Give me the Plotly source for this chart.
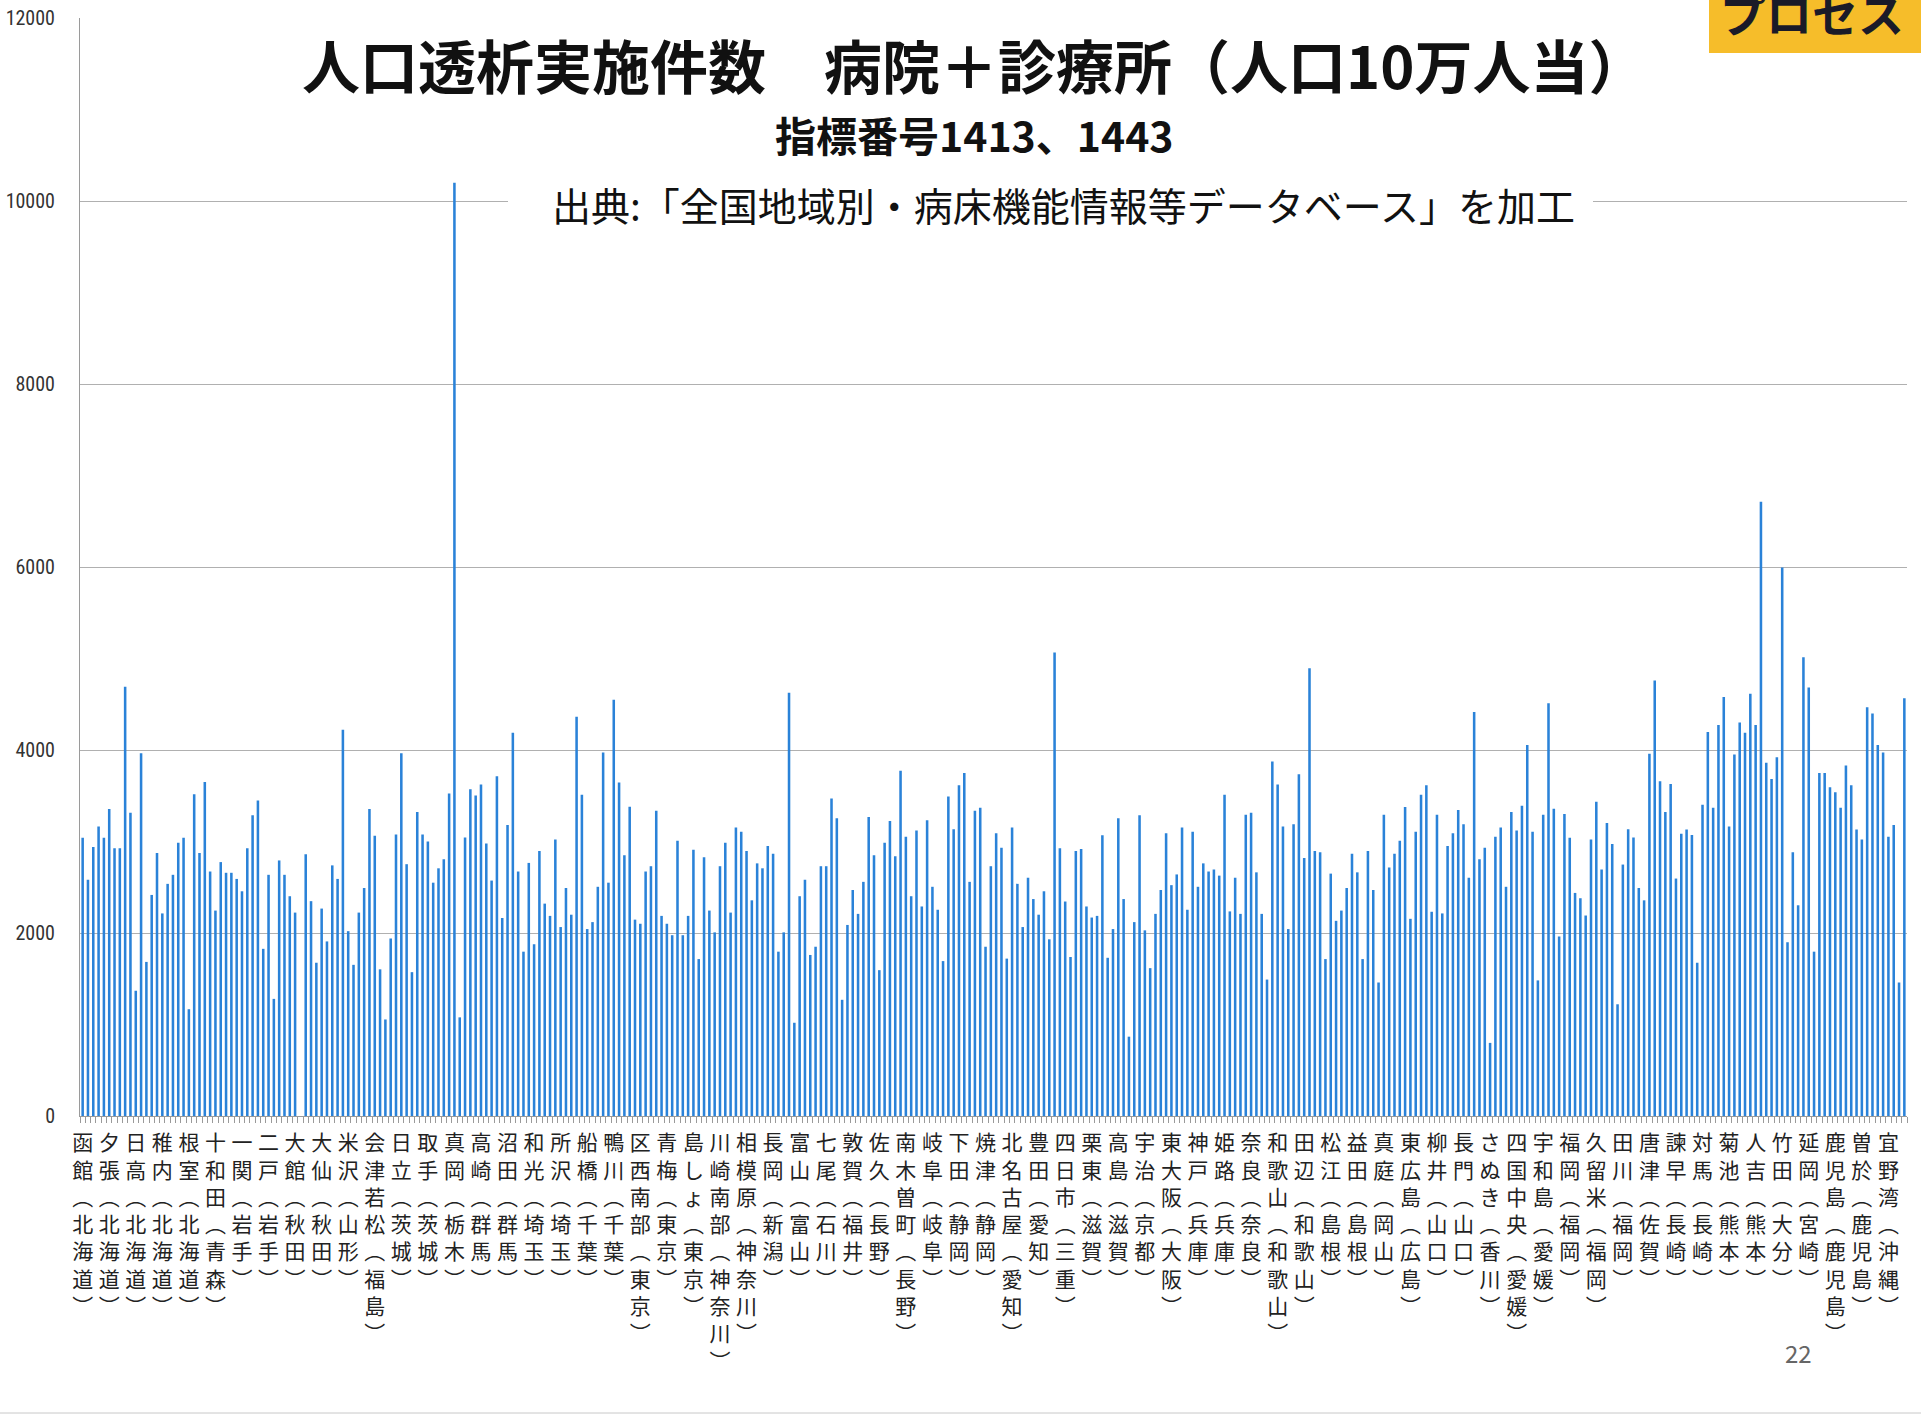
import plotly.graph_objects as go

# 人口10万人当たり人工透析実施件数（二次医療圏別、北から順）
values = [
    3040, 2582, 2941, 3165, 3040, 3354, 2927, 2927, 4692, 3314, 1369, 3965, 1684, 2416, 2874,
    2214, 2537, 2636, 2986, 3040, 1167, 3516, 2874, 3650, 2672, 2245, 2775, 2658, 2658,
    2591, 2456, 2927, 3287, 3448, 1827, 2636, 1280, 2793, 2636, 2402, 2223, 0, 2860, 2348,
    1675, 2267, 1908, 2739, 2591, 4221, 2020, 1652, 2223, 2492, 3354, 3062, 1603, 1055,
    1940, 3076, 3965, 2752, 1572, 3323, 3076, 2999, 2550, 2707, 2806, 3525, 10200, 1078,
    3044, 3570, 3502, 3623, 2977, 2573, 3713, 2164, 3179, 4189, 2672, 1796, 2766, 1877,
    2896, 2321, 2187, 3022, 2065, 2492, 2200, 4364, 3511, 2043, 2119, 2505, 3974, 2550, 4548,
    3646, 2851, 3381, 2146, 2101, 2672, 2730, 3336, 2187, 2101, 1976, 3008, 1976, 2187,
    2910, 1715, 2829, 2245, 2007, 2730, 2986, 2223, 3152, 3107, 2896, 2357, 2761, 2707, 2950,
    2865, 1796, 2007, 4625, 1019, 2402, 2582, 1760, 1850, 2730, 2730, 3471, 3255, 1270,
    2088, 2470, 2209, 2559, 3269, 2851, 1594, 2986, 3224, 2838, 3772, 3053, 2402, 3121,
    2290, 3233, 2505, 2254, 1693, 3493, 3134, 3614, 3749, 2559, 3336, 3368, 1850, 2730,
    3089, 2932, 1720, 3152, 2537, 2065, 2604, 2371, 2200, 2456, 1931, 5065, 2927, 2344, 1738,
    2896, 2919, 2290, 2169, 2187, 3067, 1729, 2043, 3255, 2371, 867, 2119, 3287, 2029,
    1616, 2209, 2470, 3089, 2523, 2640, 3152, 2254, 3107, 2505, 2761, 2672, 2694, 2627, 3511,
    2236, 2604, 2209, 3291, 3314, 2663, 2209, 1491, 3875, 3623, 3165, 2043, 3188, 3736,
    2820, 4894, 2896, 2883, 1715, 2649, 2133, 2245, 2492, 2865, 2663, 1715, 2896, 2470,
    1459, 3291, 2716, 2865, 3008, 3376, 2155, 3107, 3511, 3614, 2232, 3291, 2214, 2950,
    3089, 3345, 3188, 2604, 4414, 2806, 2932, 799, 3053, 3152, 2505, 3323, 3121, 3390, 4054,
    3107, 1482, 3291, 4512, 3359, 1962, 3300, 3040, 2438, 2380, 2191, 3022, 3435, 2694,
    3201, 2972, 1221, 2748, 3134, 3044, 2492, 2357, 3960, 4759, 3659, 3323, 3628, 2595, 3085,
    3130, 3071, 1675, 3403, 4198, 3368, 4274, 4580, 3165, 3951, 4301, 4189, 4616, 4274,
    6712, 3861, 3682, 3920, 5994, 1899, 2883, 2303, 5015, 4683, 1796, 3749, 3749, 3592,
    3538, 3368, 3830, 3614, 3130, 3022, 4468, 4400, 4054, 3974, 3053, 3179, 1459, 4566,
]

# 5圏域ごとに表示されている軸ラベル
label_names = [
    "函館", "夕張", "日高", "稚内", "根室", "十和田", "一関", "二戸", "大館", "大仙",
    "米沢", "会津若松", "日立", "取手", "真岡", "高崎", "沼田", "和光", "所沢", "船橋",
    "鴨川", "区西南部", "青梅", "島しょ", "川崎南部", "相模原", "長岡", "富山", "七尾", "敦賀",
    "佐久", "南木曽町", "岐阜", "下田", "焼津", "北名古屋", "豊田", "四日市", "栗東", "高島",
    "宇治", "東大阪", "神戸", "姫路", "奈良", "和歌山", "田辺", "松江", "益田", "真庭",
    "東広島", "柳井", "長門", "さぬき", "四国中央", "宇和島", "福岡", "久留米", "田川", "唐津",
    "諫早", "対馬", "菊池", "人吉", "竹田", "延岡", "鹿児島", "曽於", "宜野湾",
]
label_prefs = [
    "北海道", "北海道", "北海道", "北海道", "北海道", "青森", "岩手", "岩手", "秋田", "秋田",
    "山形", "福島", "茨城", "茨城", "栃木", "群馬", "群馬", "埼玉", "埼玉", "千葉",
    "千葉", "東京", "東京", "東京", "神奈川", "神奈川", "新潟", "富山", "石川", "福井",
    "長野", "長野", "岐阜", "静岡", "静岡", "愛知", "愛知", "三重", "滋賀", "滋賀",
    "京都", "大阪", "兵庫", "兵庫", "奈良", "和歌山", "和歌山", "島根", "島根", "岡山",
    "広島", "山口", "山口", "香川", "愛媛", "愛媛", "福岡", "福岡", "福岡", "佐賀",
    "長崎", "長崎", "熊本", "熊本", "大分", "宮崎", "鹿児島", "鹿児島", "沖縄",
]
label_step = 5

y_ticks = [0, 2000, 4000, 6000, 8000, 10000, 12000]

title_text = "人口透析実施件数　病院＋診療所（人口10万人当）"
subtitle_text = "指標番号1413、1443"
source_text = "出典:「全国地域別・病床機能情報等データベース」を加工"
tag_text = "プロセス"
page_text = "22"

W, H = 1921, 1417
L, R, T, B = 80, 14, 18, 301
JP = "Noto Sans CJK JP, Noto Sans, sans-serif"


def px(x, y):
    # page pixel -> paper coords
    return (x - L) / (W - L - R), (H - B - y) / (H - T - B)


def vertical(name, pref):
    chars = list(name) + ["︵"] + list(pref) + ["︶"]
    return "<br>".join(chars)


n = len(values)
tickvals = [i * label_step for i in range(len(label_names))]
ticktext = [vertical(a, b) for a, b in zip(label_names, label_prefs)]

fig = go.Figure()
fig.add_trace(go.Bar(
    x=list(range(n)), y=values, width=0.48,
    marker=dict(color="#2a82d8", line_width=0),
    hovertemplate="%{y}<extra></extra>",
))

fig.update_xaxes(
    range=[-0.5, n - 0.5], tickmode="array", tickvals=tickvals, ticktext=ticktext,
    tickangle=0, ticks="", showgrid=False, zeroline=False, automargin=False,
    showline=True, linecolor="#9a9a9a", linewidth=1,
    tickfont=dict(family=JP, size=21, color="#222"),
    ticklabelstandoff=8,
    minor=dict(tickmode="linear", tick0=0.5, dtick=1, ticks="outside", ticklen=6,
               tickcolor="#9a9a9a", showgrid=False),
)
fig.update_yaxes(
    range=[0, 12000], tickmode="array", tickvals=y_ticks, tickformat="d",
    showgrid=True, gridcolor="#b0b0b0", gridwidth=1, zeroline=False, automargin=False,
    showline=True, linecolor="#9a9a9a", linewidth=1, ticks="",
    tickfont=dict(family="Liberation Sans Narrow, Arial Narrow, Roboto Condensed, sans-serif",
                  size=20, color="#333"),
    ticklabelstandoff=20,
)

shapes = []
# white boxes behind the titles (hide gridlines)
for (x0, y0, x1, y1) in [(251, 0, 1709, 100), (508, 172, 1593, 240)]:
    a0, b0 = px(x0, y1)
    a1, b1 = px(x1, y0)
    shapes.append(dict(type="rect", xref="paper", yref="paper", x0=a0, y0=b0, x1=a1, y1=b1,
                       fillcolor="white", line_width=0, layer="above"))
# orange tag in the corner
a0, b0 = px(1709, 53)
a1, b1 = px(1921, -5)
shapes.append(dict(type="rect", xref="paper", yref="paper", x0=a0, y0=b0, x1=a1, y1=b1,
                   fillcolor="#f6bd2a", line_width=0, layer="above"))
# scan edge at bottom
a0, b0 = px(0, 1413)
a1, _ = px(W, 1413)
shapes.append(dict(type="line", xref="paper", yref="paper", x0=a0, y0=b0, x1=a1, y1=b0,
                   line=dict(color="#c8c8c8", width=1)))

annotations = []


def add_text(text, x, y, size, color="#111", bold=False):
    ax, ay = px(x, y)
    annotations.append(dict(
        text=f"<b>{text}</b>" if bold else text, xref="paper", yref="paper",
        x=ax, y=ay, xanchor="center", yanchor="middle", showarrow=False,
        font=dict(family=JP, size=size, color=color),
    ))


add_text(title_text, 974, 64, 58, bold=True)
add_text(subtitle_text, 974, 134, 41, bold=True)
add_text(source_text, 1063, 204, 39)
add_text(tag_text, 1812, 12, 46, color="#1a1a28", bold=True)
add_text(page_text, 1798, 1352, 24, color="#666")

fig.update_layout(
    width=W, height=H, margin=dict(l=L, r=R, t=T, b=B),
    plot_bgcolor="white", paper_bgcolor="white",
    showlegend=False, bargap=0.5,
    shapes=shapes, annotations=annotations,
)

fig.write_html(
    "out.html",
    config={"displayModeBar": False},
    post_script="document.body.style.margin='0';document.body.style.overflow='hidden';",
)
